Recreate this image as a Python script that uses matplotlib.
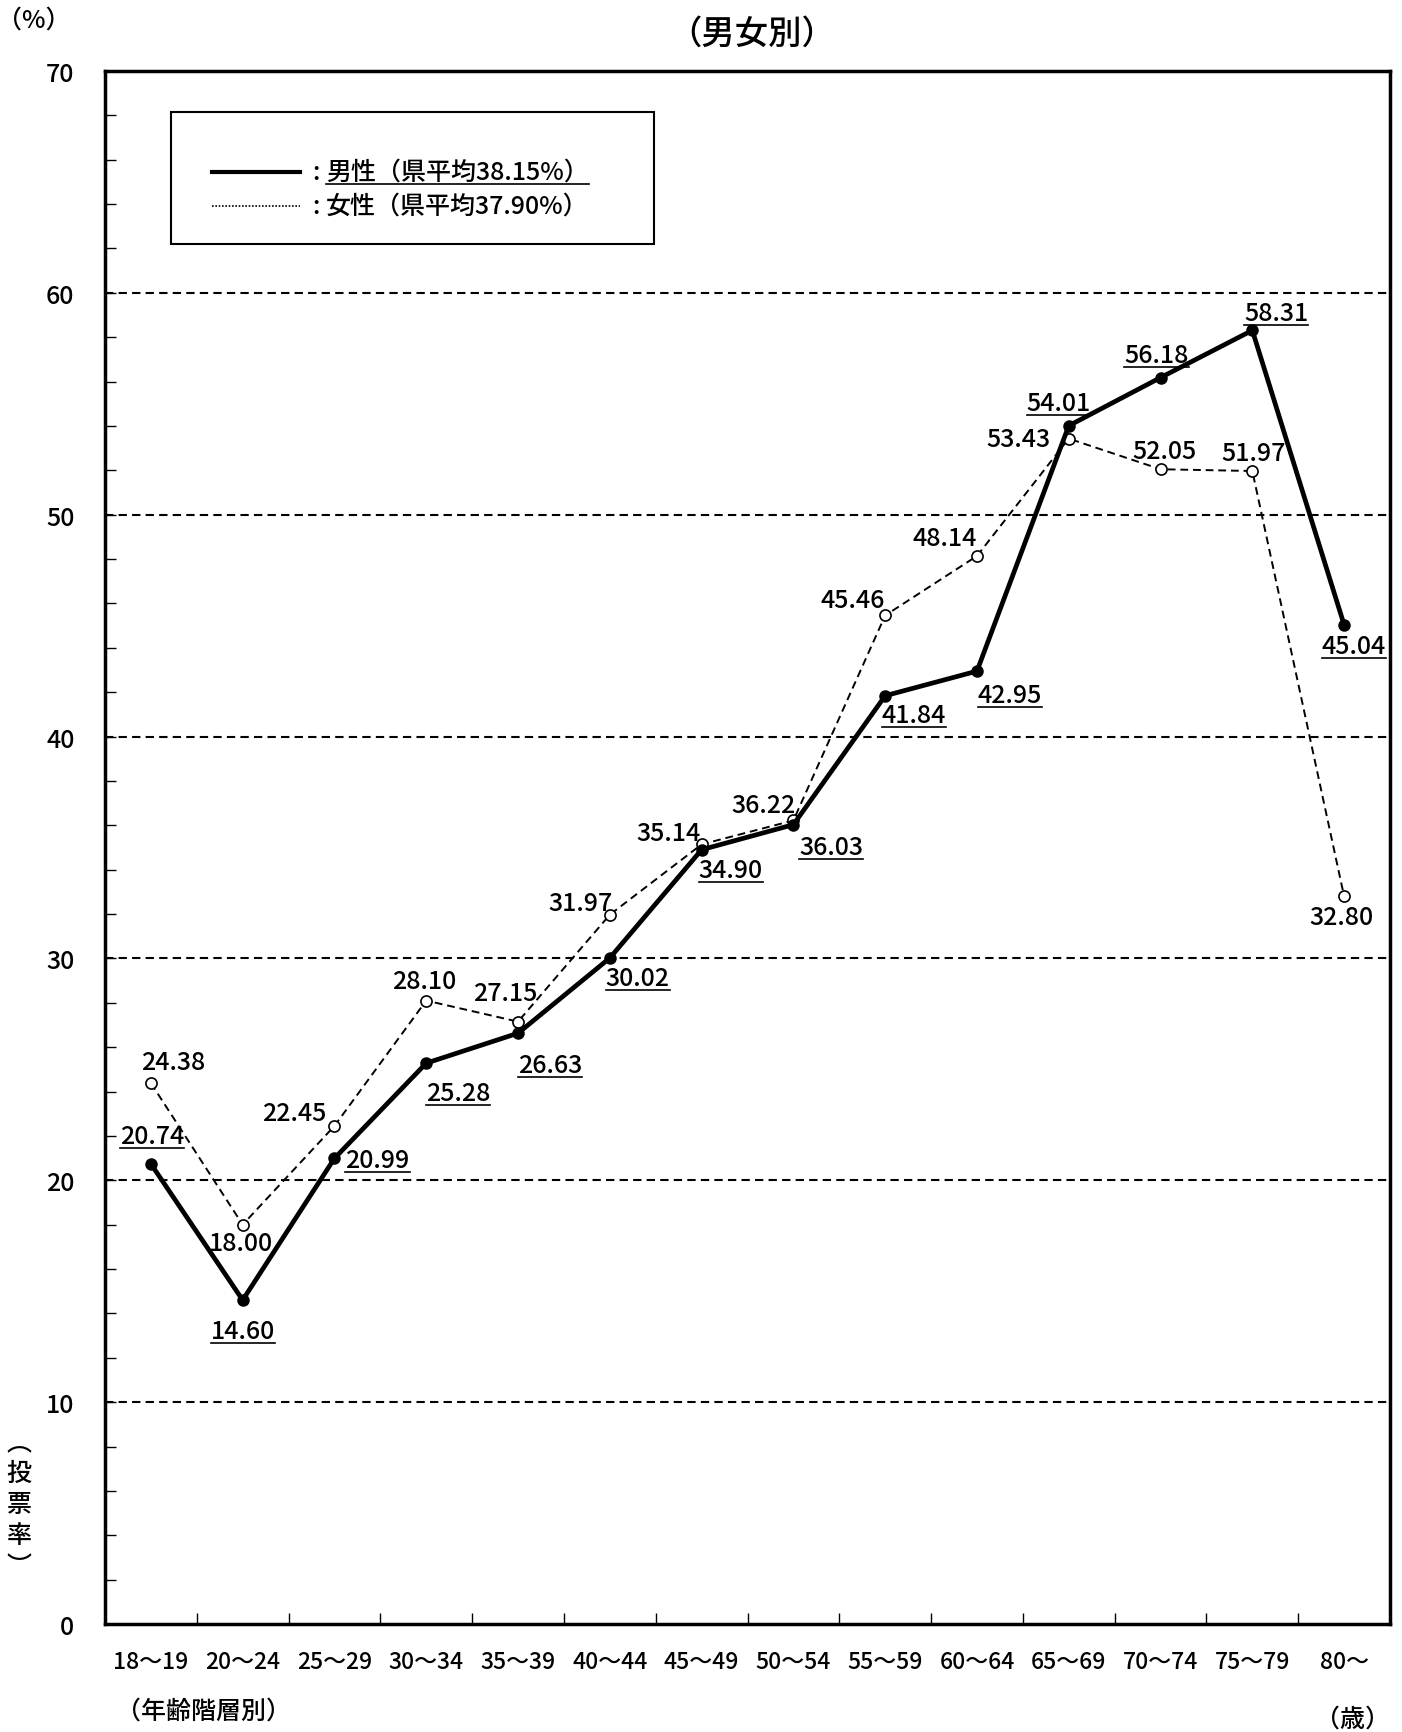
import matplotlib
matplotlib.use('Agg')
import matplotlib.pyplot as plt
from matplotlib.lines import Line2D
from matplotlib.patches import Rectangle
import numpy as np

plt.rcParams['font.family'] = ['Noto Sans CJK JP', 'DejaVu Sans']
plt.rcParams['font.weight'] = 'medium'

# 年齢階層
ages = ['18～19', '20～24', '25～29', '30～34', '35～39', '40～44', '45～49',
        '50～54', '55～59', '60～64', '65～69', '70～74', '75～79', '80～']
# 投票率（%）
male = [20.74, 14.60, 20.99, 25.28, 26.63, 30.02, 34.90, 36.03, 41.84, 42.95,
        54.01, 56.18, 58.31, 45.04]
female = [24.38, 18.00, 22.45, 28.10, 27.15, 31.97, 35.14, 36.22, 45.46, 48.14,
          53.43, 52.05, 51.97, 32.80]
male_avg = '38.15%'
female_avg = '37.90%'

# ラベルの位置（ピクセル）
male_off = [(1, 28), (0, -31), (43, -2), (32, -30), (32, -32), (28, -20), (29, -20),
            (38, -22), (29, -19), (33, -24), (-10, 23), (-4, 23), (24, 17), (10, -21)]
female_off = [(22, 21), (-2, -18), (-40, 13), (-2, 20), (-13, 29), (-29, 12), (-33, 11),
              (-30, 15), (-32, 15), (-32, 18), (-50, 0), (4, 18), (1, 18), (-3, -21)]

FS = 18
W, H = 1402, 1733
fig = plt.figure(figsize=(W / 100, H / 100), dpi=100)
ax = fig.add_axes([105 / W, 1 - 1625 / H, (1390 - 105) / W, (1625 - 72) / H])

x = np.arange(len(ages))
ax.plot(x, female, color='black', lw=1.4, ls=(0, (4, 2.5)), marker='o',
        ms=8, mfc='white', mec='black', mew=1.2, zorder=3)
ax.plot(x, male, color='black', lw=3.4, marker='o', ms=8, mfc='black',
        mec='black', zorder=4)

ax.set_xlim(-0.5, len(ages) - 0.5)
ax.set_ylim(0, 70)
ax.set_yticks(range(0, 71, 10))
ax.set_yticks(range(0, 71, 2), minor=True)
ax.set_xticks(x)
ax.set_xticklabels(ages)
ax.set_xticks(x[:-1] + 0.5, minor=True)
ax.tick_params(axis='y', which='both', direction='in', length=8, width=1, pad=22,
               labelsize=18)
ax.tick_params(axis='x', which='major', length=0, pad=19, labelsize=16.5)
ax.tick_params(axis='x', which='minor', direction='in', length=8, width=1)
for yv in range(10, 71, 10):
    ax.axhline(yv, color='black', lw=1.5, ls=(0, (4, 2.5)), zorder=1)
for s in ax.spines.values():
    s.set_linewidth(2.5)

male_txt = []
for i in range(len(ages)):
    t = ax.annotate(f'{male[i]:.2f}', (x[i], male[i]), xytext=male_off[i],
                    textcoords='offset pixels', ha='center', va='center',
                    fontsize=FS, zorder=5)
    male_txt.append(t)
    ax.annotate(f'{female[i]:.2f}', (x[i], female[i]), xytext=female_off[i],
                textcoords='offset pixels', ha='center', va='center',
                fontsize=FS, zorder=5)

# 凡例
ax.add_patch(Rectangle((171, H - 245), 654 - 171, 132, transform=None,
                       fill=False, ec='black', lw=1.5, zorder=6))
fig.add_artist(Line2D([212, 300], [H - 173, H - 173], transform=None, color='black', lw=3))
fig.add_artist(Line2D([212, 300], [H - 207, H - 207], transform=None, color='black',
                      lw=1.2, ls=(0, (1, 1))))
fig.text(312 / W, 1 - 173 / H, ':', fontsize=FS, va='center')
leg1 = fig.text(326 / W, 1 - 173 / H, f'男性（県平均{male_avg}）', fontsize=FS, va='center')
fig.text(312 / W, 1 - 207 / H, ':', fontsize=FS, va='center')
fig.text(326 / W, 1 - 207 / H, f'女性（県平均{female_avg}）', fontsize=FS, va='center')

fig.text(752 / W, 1 - 34 / H, '（男女別）', fontsize=24, ha='center', va='center')
fig.text(34 / W, 1 - 21 / H, '（%）', fontsize=18, ha='center', va='center')
fig.text(19 / W, 1 - 1505 / H, '︵\n投\n票\n率\n︶', fontsize=18, ha='center',
         va='center', linespacing=1.25)
fig.text(116 / W, 1 - 1712 / H, '（年齢階層別）', fontsize=18, ha='left', va='center')
fig.text(1352 / W, 1 - 1720 / H, '（歳）', fontsize=18, ha='center', va='center')

# 下線
fig.canvas.draw()
r = fig.canvas.get_renderer()
for t in male_txt + [leg1]:
    bb = t.get_window_extent(r)
    yl = bb.y0 + 1
    fig.add_artist(Line2D([bb.x0, bb.x1], [yl, yl], transform=None, color='black', lw=1.2))

fig.savefig('out.png', dpi=100)
